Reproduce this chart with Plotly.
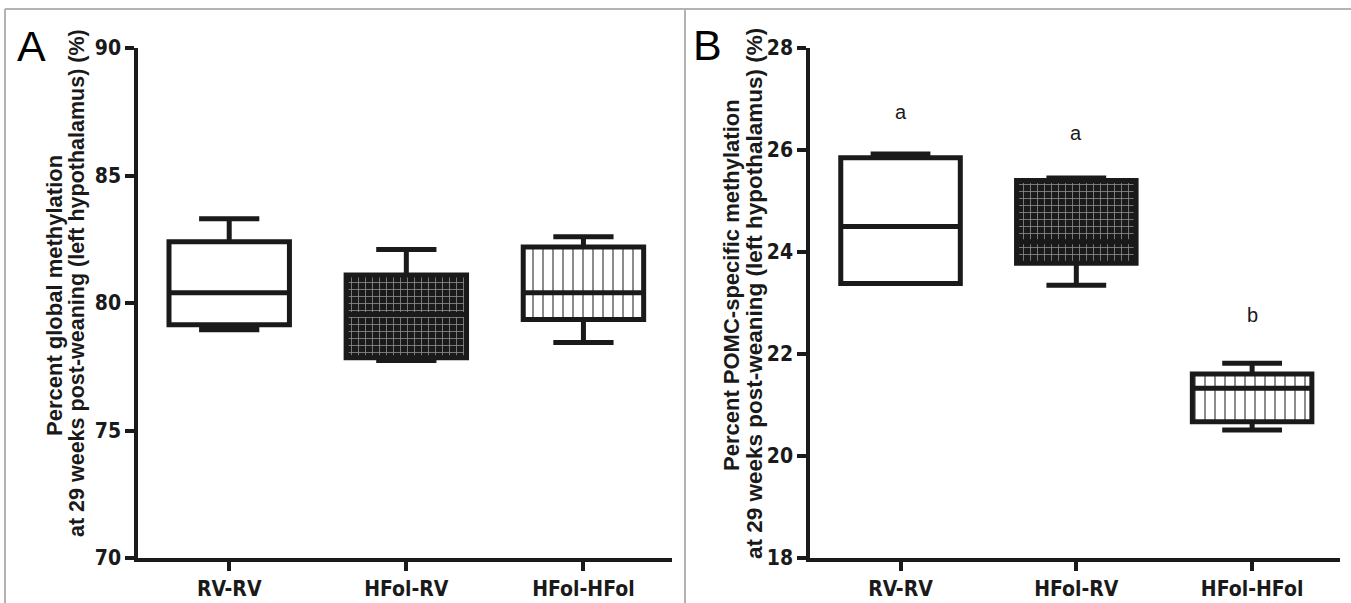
import plotly.graph_objects as go

categories = ["RV-RV", "HFol-RV", "HFol-HFol"]
xpos = [0, 1, 2]

# Panel A: global methylation (%)
a_lower = [78.95, 77.75, 78.45]
a_q1 = [79.15, 77.85, 79.35]
a_median = [80.4, 79.55, 80.4]
a_q3 = [82.4, 81.1, 82.2]
a_upper = [83.3, 82.1, 82.6]

# Panel B: POMC-specific methylation (%)
b_lower = [23.38, 23.35, 20.51]
b_q1 = [23.38, 23.78, 20.67]
b_median = [24.5, 24.2, 21.33]
b_q3 = [25.85, 25.4, 21.61]
b_upper = [25.92, 25.45, 21.82]
b_letters = ["a", "a", "b"]
b_letter_y = [26.75, 26.33, 22.76]

W, H = 1351, 603
def px(x):
    return x / W
def py(y):
    return 1 - y / H

INK = "#1a1a1a"
BW = 0.68
fig = go.Figure()

patterns = [
    dict(color="white", pattern=None),
    dict(color=INK, pattern=dict(shape="+", fgcolor="white", bgcolor=INK, size=7, solidity=0.22, fillmode="overlay")),
    dict(color="white", pattern=dict(shape="|", fgcolor=INK, bgcolor="white", size=10, solidity=0.2)),
]

def add_panel(xa, ya, lower, q1, med, q3, upper):
    for i in range(3):
        m = dict(color=patterns[i]["color"], line=dict(width=0))
        if patterns[i]["pattern"] is not None:
            m["pattern"] = patterns[i]["pattern"]
        fig.add_trace(go.Bar(x=[xpos[i]], y=[q3[i] - q1[i]], base=[q1[i]], width=BW,
                             marker=m, xaxis=xa, yaxis=ya, showlegend=False, hoverinfo="skip"))
    fig.add_trace(go.Box(x=xpos, q1=q1, median=med, q3=q3, lowerfence=lower, upperfence=upper,
                         width=BW, whiskerwidth=0.5, fillcolor="rgba(0,0,0,0)",
                         line=dict(color=INK, width=5), xaxis=xa, yaxis=ya,
                         showlegend=False, boxpoints=False))

add_panel("x", "y", a_lower, a_q1, a_median, a_q3, a_upper)
add_panel("x2", "y2", b_lower, b_q1, b_median, b_q3, b_upper)

tickfont = dict(family="Liberation Sans Narrow, DejaVu Sans Condensed, Liberation Sans, Arial",
                size=21, color=INK, weight="bold")
axis_common = dict(showline=True, linecolor=INK, linewidth=3.5, ticks="outside",
                   ticklen=9, tickwidth=3.5, tickcolor=INK, showgrid=False, zeroline=False,
                   tickfont=tickfont, automargin=False)

fig.update_layout(
    width=W, height=H, margin=dict(l=0, r=0, t=0, b=0, autoexpand=False),
    paper_bgcolor="white", plot_bgcolor="white", barmode="overlay", boxmode="overlay",
    xaxis=dict(domain=[px(138), px(672)], range=[-0.515, 2.5], tickvals=xpos, ticktext=categories,
               anchor="y", **axis_common),
    yaxis=dict(domain=[py(558), py(48)], range=[70, 90], tickvals=[70, 75, 80, 85, 90],
               anchor="x", **axis_common),
    xaxis2=dict(domain=[px(810), px(1340)], range=[-0.515, 2.5], tickvals=xpos, ticktext=categories,
                anchor="y2", **axis_common),
    yaxis2=dict(domain=[py(558), py(48)], range=[18, 28], tickvals=[18, 20, 22, 24, 26, 28],
                anchor="x2", **axis_common),
)

def ytitle(x, y, text, size):
    fig.add_annotation(x=px(x), y=py(y), xref="paper", yref="paper", textangle=-90,
                       xanchor="center", yanchor="middle", text="<b>" + text + "</b>",
                       showarrow=False, font=dict(family="Liberation Sans, Arial", size=size, color=INK))

ytitle(54, 296, "Percent global methylation", 22)
ytitle(77, 283, "at 29 weeks post-weaning (left hypothalamus) (%)", 21.5)
ytitle(731, 285, "Percent POMC-specific methylation", 22)
ytitle(754, 294, "at 29 weeks post-weaning (left hypothalamus) (%)", 22.5)

panelfont = dict(family="Liberation Sans, Arial", size=43, color="black")
fig.add_annotation(x=px(31), y=py(46), xref="paper", yref="paper", text="A",
                   xanchor="center", yanchor="middle", showarrow=False, font=panelfont)
fig.add_annotation(x=px(707), y=py(45), xref="paper", yref="paper", text="B",
                   xanchor="center", yanchor="middle", showarrow=False, font=panelfont)

for i in range(3):
    fig.add_annotation(x=xpos[i], y=b_letter_y[i], xref="x2", yref="y2", text=b_letters[i],
                       xanchor="center", yanchor="middle",
                       showarrow=False, font=dict(family="Liberation Sans, Arial", size=20, color=INK))

gray = "#b3b3b3"
for (x0, y0, x1, y1) in [(5, 9, 1351, 9), (5, 9, 5, 603), (685, 9, 685, 603)]:
    fig.add_shape(type="line", xref="paper", yref="paper", x0=px(x0), y0=py(y0), x1=px(x1), y1=py(y1),
                  line=dict(color=gray, width=2))

fig.write_html("out.html")
